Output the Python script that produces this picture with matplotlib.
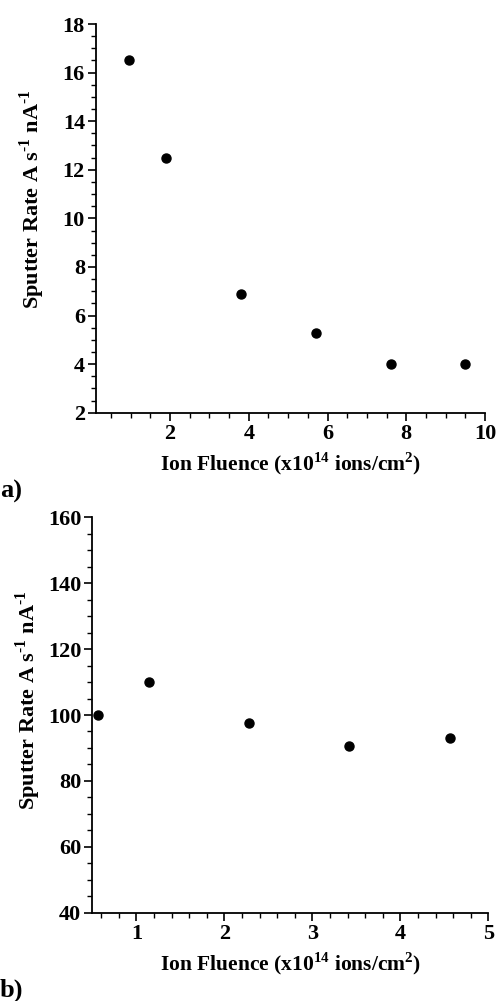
import matplotlib
matplotlib.use("Agg")
import matplotlib.pyplot as plt
from matplotlib.ticker import MultipleLocator

plt.rcParams['font.family'] = ['Liberation Serif', 'DejaVu Serif']
plt.rcParams['font.weight'] = 'bold'
plt.rcParams['mathtext.fontset'] = 'custom'
plt.rcParams['mathtext.rm'] = 'Liberation Serif:bold'
plt.rcParams['mathtext.bf'] = 'Liberation Serif:bold'

# panel a
fluence_a = [0.95, 1.9, 3.8, 5.7, 7.6, 9.5]
rate_a = [16.5, 12.5, 6.9, 5.3, 4.0, 4.0]

# panel b
fluence_b = [0.57, 1.14, 2.28, 3.42, 4.56]
rate_b = [100, 110, 97.7, 90.5, 93.0]

xlabel = r"Ion Fluence (x10$^{\mathbf{14}}$ ions/cm$^{\mathbf{2}}$)"
ylabel = r"Sputter Rate A s$^{\text{-1}}$ nA$^{\text{-1}}$"

fig = plt.figure(figsize=(4.99, 10.01), dpi=100)
axA = fig.add_axes([0.1924, 0.5877, 0.7796, 0.3883])
axB = fig.add_axes([0.185, 0.0882, 0.7936, 0.395])


def style(ax, xlim, ylim, xmaj, xmin, ymaj, ymin, ylab_pos):
    ax.set_xlim(*xlim)
    ax.set_ylim(*ylim)
    ax.xaxis.set_major_locator(MultipleLocator(xmaj))
    ax.xaxis.set_minor_locator(MultipleLocator(xmin))
    ax.yaxis.set_major_locator(MultipleLocator(ymaj))
    ax.yaxis.set_minor_locator(MultipleLocator(ymin))
    for s in ['top', 'right']:
        ax.spines[s].set_visible(False)
    for s in ['left', 'bottom']:
        ax.spines[s].set_linewidth(1.3)
    ax.tick_params(which='major', length=6, width=1.2, labelsize=16, pad=2)
    ax.tick_params(which='minor', length=3.5, width=1.0)
    for lab in ax.get_xticklabels() + ax.get_yticklabels():
        lab.set_fontweight('bold')
    ax.set_xlabel(xlabel, fontsize=15.5, fontweight='bold', labelpad=5)
    ax.set_ylabel(ylabel, fontsize=16, fontweight='bold')
    ax.yaxis.set_label_coords(*ylab_pos)


axA.plot(fluence_a, rate_a, 'o', color='black', markersize=6.5, clip_on=False)
style(axA, (0.12, 10), (2, 18), 2, 0.5, 2, 0.5, (-0.127, 0.55))
axA.set_xticks([2, 4, 6, 8, 10])

axB.plot(fluence_b, rate_b, 'o', color='black', markersize=6.5, clip_on=False)
style(axB, (0.5, 5), (40, 160), 1, 0.2, 20, 5, (-0.125, 0.537))
axB.set_xticks([1, 2, 3, 4, 5])

fig.text(0.0, 0.509, "a)", fontsize=19, fontweight='bold', ha='left', va='center')
fig.text(0.0, 0.011, "b)", fontsize=19, fontweight='bold', ha='left', va='center')

fig.savefig("out.png", dpi=100)
